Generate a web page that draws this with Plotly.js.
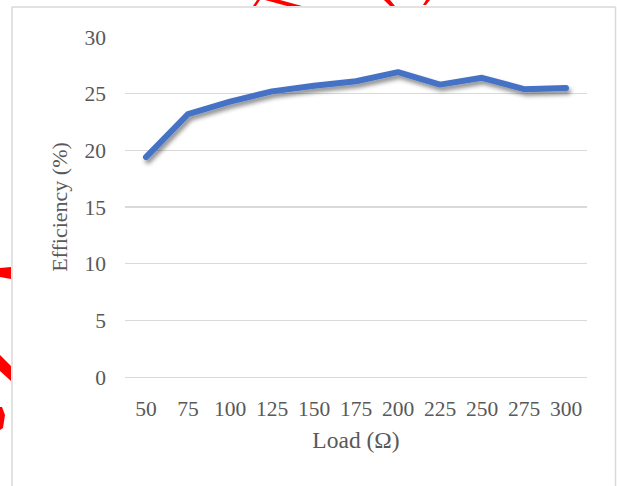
<!DOCTYPE html>
<html>
<head>
<meta charset="utf-8">
<script src="https://cdn.plot.ly/plotly-3.0.1.min.js"></script>
<style>
  html, body { margin: 0; padding: 0; background: #ffffff; }
  #chart { width: 617px; height: 486px; }
</style>
</head>
<body>
<div id="chart"></div>
<script>
// Load resistance (ohms) and measured efficiency (%)
const loads = ['50', '75', '100', '125', '150', '175', '200', '225', '250', '275', '300'];
const efficiency = [19.4, 23.2, 24.3, 25.2, 25.7, 26.1, 26.9, 25.8, 26.4, 25.4, 25.5];
const yTicks = [0, 5, 10, 15, 20, 25, 30];

const W = 617, H = 486;
const M = { l: 125, r: 30, t: 37, b: 109 };
// pixel -> paper coordinate helpers for the frame and decorations
const px = x => (x - M.l) / (W - M.l - M.r);
const py = y => 1 - (y - M.t) / (H - M.t - M.b);

const frameColor = '#d9d9d9';
const red = '#ff0000';

function path(pts) {
  return 'M' + pts.map(p => px(p[0]).toFixed(4) + ',' + py(p[1]).toFixed(4)).join(' L') + ' Z';
}

const shapes = [
  // chart frame
  { type: 'line', xref: 'paper', yref: 'paper', x0: px(12), x1: px(12), y0: py(7), y1: py(490),
    line: { color: frameColor, width: 1.5 } },
  { type: 'line', xref: 'paper', yref: 'paper', x0: px(12), x1: px(615.5), y0: py(7), y1: py(7),
    line: { color: frameColor, width: 1.5 } },
  { type: 'line', xref: 'paper', yref: 'paper', x0: px(615.5), x1: px(615.5), y0: py(7), y1: py(490),
    line: { color: frameColor, width: 1.5 } },
  // red annotation strokes around the frame
  { type: 'path', xref: 'paper', yref: 'paper', path: path([[253, 6], [257, 0], [260, 0], [256, 6]]),
    fillcolor: red, line: { width: 0 } },
  { type: 'path', xref: 'paper', yref: 'paper', path: path([[265, 0], [280, 0], [302, 6], [287, 6]]),
    fillcolor: red, line: { width: 0 } },
  { type: 'path', xref: 'paper', yref: 'paper', path: path([[384, 0], [390, 0], [395, 6], [390, 6]]),
    fillcolor: red, line: { width: 0 } },
  { type: 'path', xref: 'paper', yref: 'paper', path: path([[426, 0], [430, 0], [426, 5], [423, 5]]),
    fillcolor: red, line: { width: 0 } },
  { type: 'path', xref: 'paper', yref: 'paper', path: path([[0, 268], [11, 267], [11, 279], [0, 277]]),
    fillcolor: red, line: { width: 0 } },
  { type: 'path', xref: 'paper', yref: 'paper', path: path([[0, 355], [11, 366], [11, 381], [0, 371]]),
    fillcolor: red, line: { width: 0 } },
  { type: 'path', xref: 'paper', yref: 'paper', path: path([[0, 407], [2, 407], [5, 415], [3, 428], [0, 430]]),
    fillcolor: red, line: { width: 0 } }
];

const family = '"Liberation Serif", "Times New Roman", serif';
const tickFont = { family: family, color: '#595959', size: 21.5 };
const xTitleFont = { family: family, color: '#595959', size: 23.5 };
const yTitleFont = { family: family, color: '#595959', size: 22 };

const trace = {
  type: 'scatter',
  mode: 'lines',
  x: loads,
  y: efficiency,
  line: { color: '#4472c4', width: 6 },
  hoverinfo: 'skip'
};

const layout = {
  width: W,
  height: H,
  margin: M,
  paper_bgcolor: '#ffffff',
  plot_bgcolor: '#ffffff',
  font: tickFont,
  showlegend: false,
  xaxis: {
    type: 'category',
    range: [-0.5, loads.length - 0.5],
    showgrid: false,
    showline: true,
    linecolor: frameColor,
    linewidth: 1.3,
    ticks: '',
    ticklabelstandoff: 12,
    tickfont: tickFont,
    title: { text: 'Load (Ω)', font: xTitleFont, standoff: 11 },
    automargin: false,
    fixedrange: true
  },
  yaxis: {
    range: [0, 30],
    tickvals: yTicks,
    showgrid: true,
    gridcolor: frameColor,
    gridwidth: 1.3,
    zeroline: false,
    showline: false,
    ticks: '',
    ticklabelstandoff: 18,
    tickfont: tickFont,
    title: { text: 'Efficiency (%)', font: yTitleFont, standoff: 10 },
    automargin: false,
    fixedrange: true
  },
  shapes: shapes
};

Plotly.newPlot('chart', [trace], layout, { staticPlot: true, displayModeBar: false }).then(gd => {
  // soft drop shadow and rounded ends on the efficiency line
  const svg = gd.querySelector('svg.main-svg');
  const NS = 'http://www.w3.org/2000/svg';
  let defs = svg.querySelector('defs');
  if (!defs) { defs = document.createElementNS(NS, 'defs'); svg.insertBefore(defs, svg.firstChild); }
  const filter = document.createElementNS(NS, 'filter');
  filter.setAttribute('id', 'lineShadow');
  filter.setAttribute('x', '-10%'); filter.setAttribute('y', '-30%');
  filter.setAttribute('width', '130%'); filter.setAttribute('height', '180%');
  const ds = document.createElementNS(NS, 'feDropShadow');
  ds.setAttribute('dx', '2'); ds.setAttribute('dy', '3.5');
  ds.setAttribute('stdDeviation', '2');
  ds.setAttribute('flood-color', '#000000'); ds.setAttribute('flood-opacity', '0.45');
  filter.appendChild(ds);
  defs.appendChild(filter);
  gd.querySelectorAll('.scatterlayer .js-line').forEach(p => {
    p.setAttribute('filter', 'url(#lineShadow)');
    p.style.strokeLinecap = 'round';
    p.style.strokeLinejoin = 'round';
  });
});
</script>
</body>
</html>
